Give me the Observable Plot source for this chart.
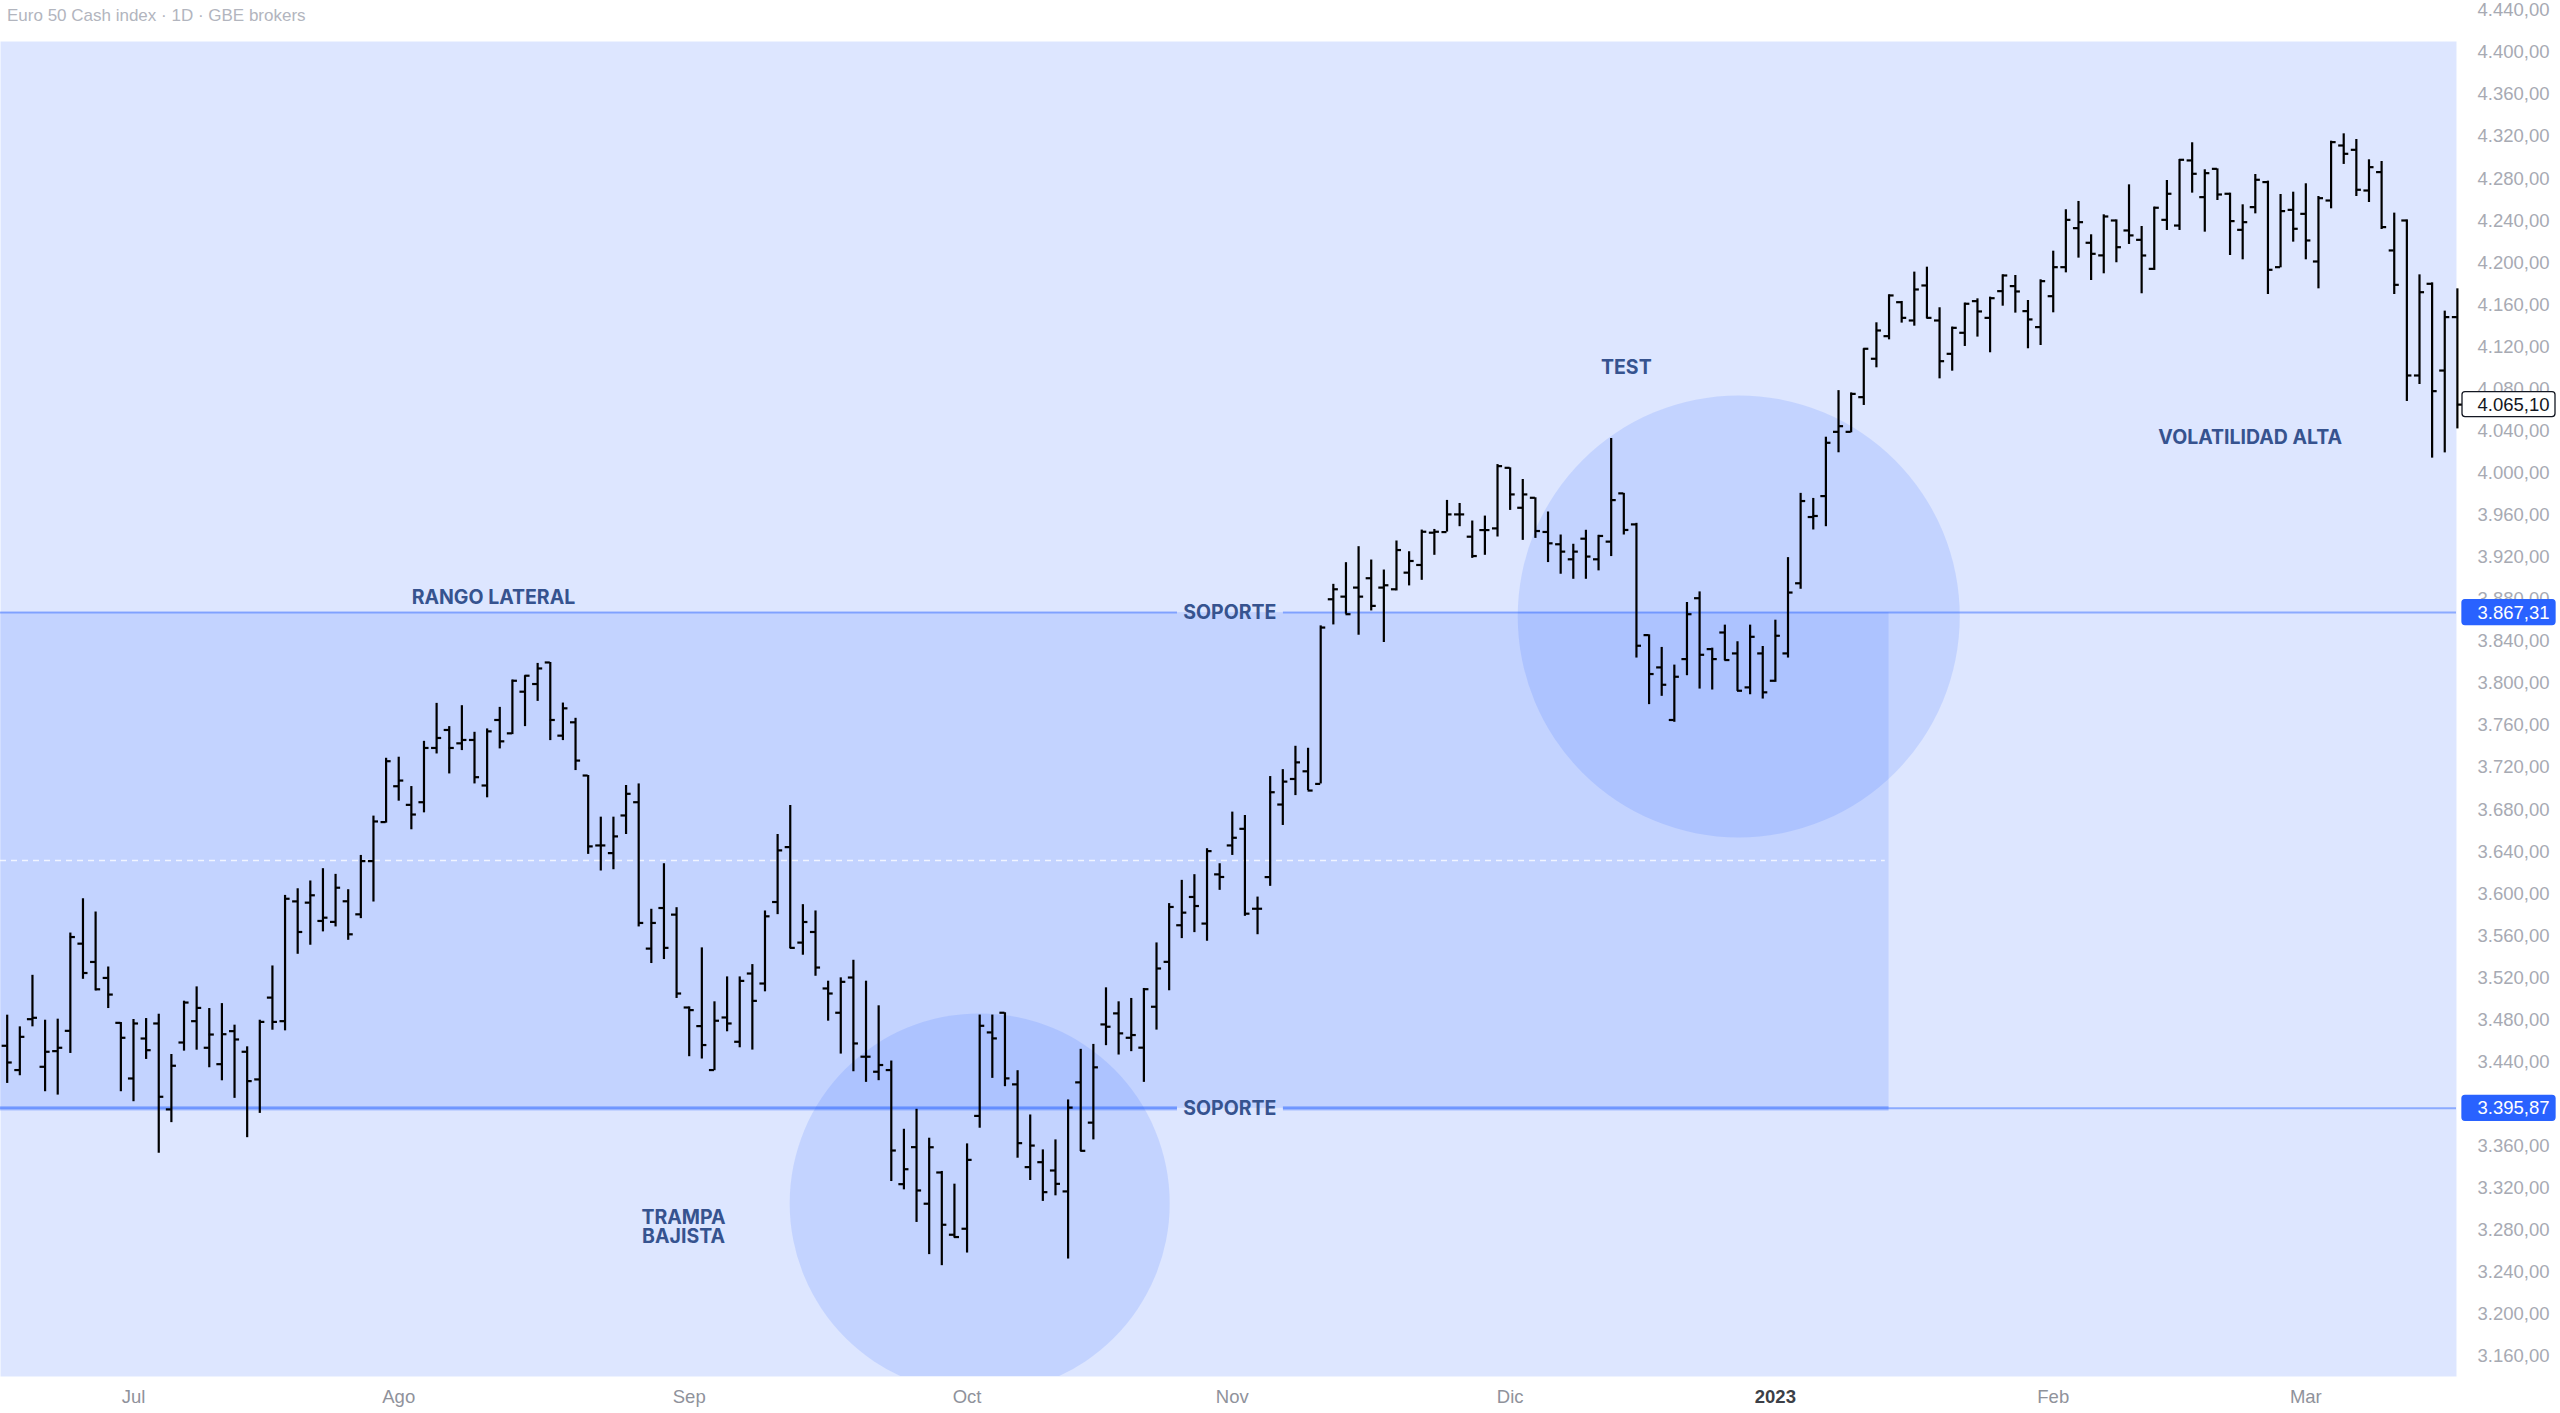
<!DOCTYPE html>
<html>
<head>
<meta charset="utf-8">
<script src="https://cdn.jsdelivr.net/npm/d3@7"></script>
<script src="https://cdn.jsdelivr.net/npm/@observablehq/plot@0.6"></script>
<style>
html, body { margin: 0; padding: 0; background: #ffffff; width: 2560px; height: 1413px; overflow: hidden; }
#wrap { position: relative; width: 2560px; height: 1413px; }
#wrap svg { position: absolute; left: 0; top: 0; }
#title { position: absolute; left: 7px; top: 7px; z-index: 2; font: 17px "Liberation Sans", Arial, sans-serif; line-height: 18px; color: #b2b5be; white-space: nowrap; }
</style>
</head>
<body>
<div id="wrap"><div id="title">Euro 50 Cash index · 1D · GBE brokers</div></div>
<script>
// ---- OHLC data, one entry per daily bar (bar index 0 = 17 Jun 2022) ----
const opens = [
3455.4,3432.3,3480.7,3435.4,3450.3,3469.6,3552.5,3535.1,3519.9,3477.2,
3424.3,3462.3,3476.6,3394.9,3458.5,3478.8,3453.5,3437.9,3469.3,3449.7,
3423.4,3501.2,3478.8,3592.7,3591.5,3574.1,3573.2,3592.8,3580.4,3631.0,
3668.1,3702.2,3684.5,3687.0,3738.6,3755.7,3743.0,3746.2,3702.9,3765.2,
3752.5,3792.1,3799.4,3819.9,3750.3,3763.0,3712.4,3645.9,3638.6,3674.4,
3687.0,3547.8,3586.4,3580.1,3491.8,3474.1,3432.3,3482.3,3459.2,3524.1,
3514.6,3592.1,3644.3,3553.5,3563.6,3509.9,3486.8,3520.3,3445.0,3430.7,
3432.3,3323.8,3359.0,3305.2,3334.9,3275.7,3281.4,3388.7,3468.1,3486.8,
3418.7,3340.0,3344.7,3336.8,3316.9,3420.6,3382.3,3475.7,3486.2,3463.0,
3453.6,3492.5,3535.2,3570.0,3596.9,3571.6,3618.4,3645.9,3661.7,3585.7,
3615.8,3684.8,3709.1,3716.4,3704.4,3880.0,3882.5,3891.1,3900.0,3891.1,
3889.5,3905.3,3912.6,3943.3,3943.9,3960.7,3939.5,3945.8,3947.4,4005.0,
3967.0,3976.5,3944.0,3932.3,3918.0,3937.6,3918.0,3934.8,3980.7,3951.2,
3845.9,3815.2,3765.2,3823.1,3881.0,3832.6,3848.4,3828.5,3796.2,3828.5,
3802.5,3828.5,3895.2,3958.2,3978.1,4039.2,4039.2,4072.2,4108.7,4130.2,
4162.5,4145.1,4178.4,4145.1,4113.4,4133.4,4163.5,4147.6,4173.0,4177.8,
4154.0,4138.8,4168.2,4195.8,4232.9,4219.0,4207.0,4240.2,4230.7,4221.8,
4194.2,4240.8,4235.4,4297.3,4262.4,4289.3,4265.6,4231.3,4252.9,4276.7,
4195.8,4250.3,4246.5,4201.2,4259.2,4311.5,4307.4,4268.7,4286.2,4211.7,
4240.2,4092.8,4180.0,4097.5,4148.3
];
const highs = [
3484.5,3473.4,3522.4,3479.7,3480.7,3562.6,3595.2,3582.6,3530.3,3477.5,
3480.4,3481.3,3485.4,3447.1,3497.8,3511.4,3490.8,3495.5,3475.0,3454.4,
3479.7,3531.3,3598.4,3604.7,3612.1,3623.8,3618.4,3603.8,3636.4,3673.8,
3728.8,3729.8,3701.9,3744.9,3781.0,3758.9,3778.8,3753.5,3756.7,3777.2,
3803.2,3807.3,3819.0,3819.9,3781.3,3766.8,3712.4,3672.8,3672.8,3702.9,
3704.4,3585.2,3628.5,3586.7,3492.4,3548.5,3497.2,3520.9,3520.9,3532.6,
3583.6,3656.3,3683.9,3589.6,3583.6,3516.8,3520.0,3536.7,3516.8,3493.4,
3440.9,3376.0,3395.0,3367.5,3335.9,3323.8,3362.1,3484.6,3484.6,3486.8,
3431.7,3389.6,3356.4,3365.9,3403.9,3452.0,3456.7,3510.5,3497.2,3500.4,
3509.9,3553.2,3590.6,3612.7,3618.1,3642.8,3628.5,3677.6,3674.4,3596.8,
3711.4,3718.0,3740.2,3738.3,3854.7,3894.2,3914.8,3930.0,3917.3,3907.8,
3935.4,3925.2,3945.8,3946.4,3974.0,3971.1,3954.4,3959.1,4008.1,4005.0,
3993.9,3976.5,3963.0,3941.1,3932.3,3945.6,3940.8,4032.9,3980.7,3952.2,
3846.2,3834.2,3817.4,3876.9,3887.0,3833.5,3855.4,3839.6,3855.4,3835.1,
3860.1,3919.6,3980.7,3975.9,4034.1,4078.4,4076.2,4118.2,4142.9,4169.5,
4163.2,4191.1,4195.8,4157.2,4138.8,4161.6,4165.7,4167.3,4188.5,4187.9,
4164.1,4183.8,4211.0,4250.4,4258.3,4226.6,4245.6,4240.8,4274.1,4234.5,
4252.9,4278.2,4298.2,4314.1,4288.4,4289.3,4266.2,4255.1,4283.9,4277.6,
4264.9,4267.1,4275.1,4263.0,4315.6,4322.6,4317.2,4297.9,4296.3,4247.2,
4240.8,4188.5,4180.9,4154.0,4175.2
];
const lows = [
3419.6,3426.9,3473.4,3411.7,3408.5,3448.1,3518.6,3507.6,3490.8,3411.7,
3402.2,3442.4,3353.2,3382.3,3450.3,3451.2,3434.5,3422.1,3405.4,3368.0,
3391.1,3470.2,3469.6,3542.4,3551.0,3563.7,3568.4,3555.7,3576.3,3592.1,
3667.1,3688.0,3660.8,3676.9,3732.9,3713.9,3736.1,3704.4,3691.2,3737.7,
3751.3,3758.9,3782.9,3745.6,3745.6,3717.1,3637.4,3621.6,3622.8,3656.3,
3568.4,3533.6,3537.4,3500.4,3445.0,3442.8,3431.7,3468.7,3453.5,3451.3,
3506.7,3580.1,3547.8,3541.5,3521.5,3478.8,3447.5,3430.7,3420.6,3422.2,
3326.3,3318.4,3287.4,3256.8,3246.3,3272.6,3258.3,3377.0,3424.4,3416.5,
3348.5,3327.3,3307.4,3312.7,3252.6,3354.8,3365.9,3455.5,3446.6,3449.8,
3420.6,3470.3,3507.7,3557.3,3563.0,3554.8,3603.2,3636.4,3578.5,3561.0,
3607.0,3664.9,3693.3,3698.1,3704.4,3855.6,3865.8,3845.8,3868.9,3838.9,
3887.9,3892.7,3898.0,3921.8,3943.9,3949.0,3918.9,3921.8,3939.2,3964.5,
3936.0,3937.9,3914.9,3903.8,3899.0,3899.0,3907.0,3920.6,3941.1,3824.1,
3779.8,3787.7,3763.0,3807.3,3794.6,3793.7,3821.5,3792.4,3789.2,3785.1,
3801.0,3824.1,3889.5,3945.9,3949.0,4019.3,4038.3,4064.3,4100.1,4126.7,
4142.6,4139.7,4146.7,4089.6,4096.9,4120.4,4129.3,4114.4,4158.7,4152.1,
4118.2,4121.3,4152.4,4190.4,4204.4,4183.1,4189.5,4200.0,4217.4,4170.5,
4192.7,4230.7,4230.7,4266.2,4229.1,4259.2,4206.9,4202.8,4246.5,4169.8,
4195.2,4219.6,4202.8,4175.2,4251.3,4293.5,4263.0,4257.3,4231.6,4169.8,
4068.1,4084.2,4014.2,4019.2,4042.0
];
const closes = [
3439.5,3463.9,3482.0,3449.7,3453.5,3558.8,3524.6,3509.1,3504.1,3463.0,
3476.6,3451.2,3406.9,3436.4,3496.5,3491.4,3466.1,3466.4,3461.4,3421.8,
3478.1,3478.1,3595.2,3563.6,3598.5,3577.2,3605.7,3561.4,3631.0,3668.7,
3726.0,3707.6,3675.3,3738.6,3748.1,3738.6,3746.2,3710.8,3754.4,3744.9,
3802.5,3807.3,3814.2,3765.2,3776.3,3726.6,3645.0,3645.9,3654.5,3695.0,
3572.2,3572.2,3548.5,3505.1,3489.3,3456.1,3479.2,3476.6,3517.1,3498.1,
3578.5,3641.2,3548.5,3573.1,3529.8,3505.1,3516.2,3457.6,3445.0,3437.1,
3355.8,3338.0,3317.8,3358.9,3285.2,3273.5,3346.9,3474.4,3462.4,3424.4,
3362.8,3360.5,3316.2,3324.1,3396.6,3355.5,3434.9,3473.5,3467.2,3465.6,
3509.2,3528.9,3587.4,3582.0,3588.3,3640.5,3615.9,3653.2,3581.0,3585.7,
3696.5,3706.6,3724.9,3698.1,3853.1,3889.5,3865.8,3882.5,3873.7,3893.3,
3926.8,3916.4,3944.2,3944.2,3960.7,3960.7,3921.1,3945.8,4006.6,3979.7,
3979.7,3944.9,3933.2,3925.3,3925.3,3920.6,3940.2,3974.3,3945.9,3835.8,
3808.9,3798.7,3806.3,3865.8,3827.2,3823.1,3822.2,3793.0,3844.3,3791.5,
3845.3,3886.4,3973.4,3959.2,4028.8,4044.6,4075.3,4118.2,4135.6,4168.9,
4147.6,4174.6,4147.6,4106.4,4138.1,4161.0,4153.7,4166.3,4187.9,4172.7,
4146.1,4182.5,4195.8,4240.8,4238.6,4208.5,4244.0,4214.8,4226.0,4206.9,
4252.3,4265.6,4297.9,4284.6,4285.2,4264.9,4239.6,4238.6,4278.9,4193.3,
4249.1,4232.3,4221.2,4261.4,4314.7,4303.6,4269.4,4290.9,4233.9,4179.0,
4092.8,4172.0,4077.9,4148.3,4065.1
];

// ---- axis ticks ----
const monthTicks  = [10, 31, 54, 76, 97, 119, 140, 162, 182];   // bar index of first session of each month
const monthLabels = ["Jul", "Ago", "Sep", "Oct", "Nov", "Dic", "2023", "Feb", "Mar"];
const yTicks = d3.range(3160, 4441, 40);

// ---- drawn levels and annotations ----
const resistance = 3867.31;
const support = 3395.87;
const lastPrice = 4065.10;
const rangeEndBar = 149.0;                 // lateral-range box ends here
const labelGap = [92.66, 101.05];          // "SOPORTE" breaks the lines between these bars
const trapCircle = [{i: 77.0, p: 3305.5}];
const testCircle = [{i: 137.1, p: 3863.7}];
const notes = [
  {i: 38.5,  p: 3881.1, text: "RANGO LATERAL"},
  {i: 96.8,  p: resistance, text: "SOPORTE"},
  {i: 96.8,  p: support, text: "SOPORTE"},
  {i: 53.55, p: 3282.6, text: "TRAMPA\nBAJISTA"},
  {i: 128.2, p: 4100.1, text: "TEST"},
  {i: 177.6, p: 4033.2, text: "VOLATILIDAD ALTA"}
];
const priceTags = [
  {p: resistance, kind: "level"},
  {p: support, kind: "level"},
  {p: lastPrice, kind: "last"}
];

const bars = opens.map((o, i) => ({i, o, h: highs[i], l: lows[i], c: closes[i]}));
const fmt = d3.formatLocale({decimal: ",", thousands: ".", grouping: [3], currency: ["", ""]}).format(",.2f");

const X0 = -0.53, X1 = 193.93;
const Y0 = 3140.9, Y1 = 4410.4;
const pxPerPt = 1335 / (Y1 - Y0);
const half = 12.5 / pxPerPt;
const BLUE = "#2962ff";
const NOTE = "#36538f";
const AX = "Liberation Sans, Arial, sans-serif";

const chart = Plot.plot({
  width: 2560,
  height: 1413,
  marginTop: 41,
  marginBottom: 37,
  marginLeft: 0,
  marginRight: 104,
  x: {type: "linear", domain: [X0, X1], label: null},
  y: {type: "linear", domain: [Y0, Y1], label: null},
  style: {background: "transparent", fontFamily: AX, overflow: "visible"},
  marks: [
    Plot.frame({fill: BLUE, fillOpacity: 0.16, stroke: null}),
    // lateral range box
    Plot.rect([0], {x1: () => X0, x2: () => rangeEndBar, y1: () => support, y2: () => resistance, fill: BLUE, fillOpacity: 0.14}),
    Plot.ruleY([(support + resistance) / 2], {x1: () => X0, x2: () => rangeEndBar - 0.3, stroke: "#ffffff", strokeOpacity: 0.75, strokeWidth: 1.5, strokeDasharray: "6,5"}),
    // circles
    Plot.dot(trapCircle, {x: "i", y: "p", r: 190, fill: BLUE, fillOpacity: 0.14, stroke: null, clip: true}),
    Plot.dot(testCircle, {x: "i", y: "p", r: 221, fill: BLUE, fillOpacity: 0.14, stroke: null, clip: true}),
    // horizontal levels, broken around the SOPORTE label
    Plot.ruleY([resistance, support], {x1: () => X0, x2: () => labelGap[0], stroke: BLUE, strokeOpacity: 0.45, strokeWidth: 2}),
    Plot.ruleY([resistance, support], {x1: () => labelGap[1], x2: () => X1, stroke: BLUE, strokeOpacity: 0.45, strokeWidth: 2}),
    Plot.ruleY([support], {x1: () => X0, x2: () => labelGap[0], stroke: BLUE, strokeOpacity: 0.3, strokeWidth: 4.5}),
    Plot.ruleY([support], {x1: () => labelGap[1], x2: () => rangeEndBar, stroke: BLUE, strokeOpacity: 0.3, strokeWidth: 4.5}),
    // OHLC bars
    Plot.ruleX(bars, {x: "i", y1: "l", y2: "h", stroke: "#000000", strokeWidth: 2.2}),
    Plot.ruleY(bars, {y: "o", x1: d => d.i - 0.4, x2: d => d.i, stroke: "#000000", strokeWidth: 2.2}),
    Plot.ruleY(bars, {y: "c", x1: d => d.i, x2: d => d.i + 0.4, stroke: "#000000", strokeWidth: 2.2}),
    // annotations
    Plot.text(notes, {x: "i", y: "p", text: "text", fill: NOTE, fontSize: 19.5, fontWeight: 700, fontFamily: "Inter, sans-serif", lineHeight: 1.0}),
    // axes
    Plot.axisY(yTicks, {anchor: "right", label: null, tickSize: 0, tickPadding: 21, tickFormat: fmt, fill: "#a7aab3", color: "#a7aab3", fontSize: 18.5, fontFamily: AX}),
    Plot.axisX(monthTicks.filter((d, k) => monthLabels[k] !== "2023"), {anchor: "bottom", label: null, tickSize: 0, tickPadding: 13, tickFormat: d => monthLabels[monthTicks.indexOf(d)], fill: "#8f929b", color: "#8f929b", fontSize: 18.5, fontFamily: AX}),
    Plot.axisX(monthTicks.filter((d, k) => monthLabels[k] === "2023"), {anchor: "bottom", label: null, tickSize: 0, tickPadding: 13, tickFormat: d => monthLabels[monthTicks.indexOf(d)], fill: "#3c3f47", color: "#3c3f47", fontSize: 18.5, fontWeight: 700, fontFamily: AX}),
    // price tags on the scale
    Plot.rect(priceTags, {x1: () => X1, x2: () => X1, y1: d => d.p - half, y2: d => d.p + half, insetLeft: 6, insetRight: -99, rx: 3,
      fill: d => d.kind === "last" ? "#ffffff" : BLUE, stroke: d => d.kind === "last" ? "#131722" : BLUE, strokeWidth: 1.3}),
    Plot.text(priceTags, {y: "p", frameAnchor: "right", dx: 21, textAnchor: "start", text: d => fmt(d.p),
      fill: d => d.kind === "last" ? "#131722" : "#ffffff", fontSize: 18.5, fontFamily: AX})
  ]
});
document.getElementById("wrap").appendChild(chart);
</script>
</body>
</html>
